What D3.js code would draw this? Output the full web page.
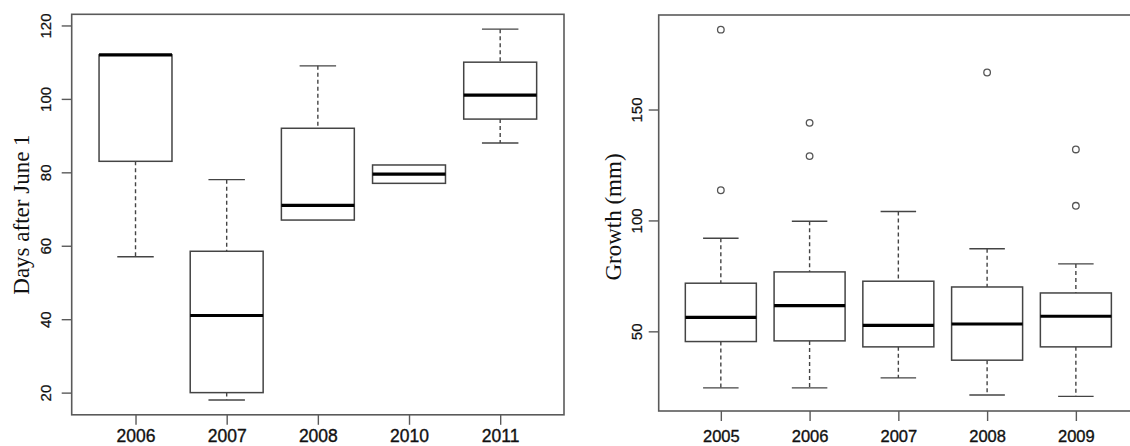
<!DOCTYPE html>
<html>
<head>
<meta charset="utf-8">
<script src="https://cdn.jsdelivr.net/npm/d3@7"></script>
<style>
  body { margin: 0; background: #fff; }
  svg { display: block; }
</style>
</head>
<body>
<svg id="chart" width="1130" height="446"></svg>
<script>
// left panel: days after June 1, per year
var leftYears = ['2006', '2007', '2008', '2010', '2011'];
var leftLow = [57, 18, 67, 77, 88];
var leftQ1 = [83, 20, 67, 77, 94.5];
var leftMed = [112, 41, 71, 79.5, 101];
var leftQ3 = [112, 58.5, 92, 82, 110];
var leftHigh = [112, 78, 109, 82, 119];
var leftOut = [[], [], [], [], []];
var leftTicks = [20, 40, 60, 80, 100, 120];

// right panel: growth (mm), per year
var rightYears = ['2005', '2006', '2007', '2008', '2009'];
var rightLow = [24.5, 24.5, 29, 21.3, 20.7];
var rightQ1 = [45.4, 45.7, 43, 37, 43];
var rightMed = [56.3, 61.6, 52.7, 53.3, 56.8];
var rightQ3 = [71.7, 76.8, 72.6, 70, 67.3];
var rightHigh = [92, 99.6, 104, 87.2, 80.4];
var rightOut = [[186, 113.6], [144, 129], [], [166.7], [132, 106.6]];
var rightTicks = [50, 100, 150];

var svg = d3.select('#chart');

function panel(cfg) {
    var g = svg.append('g');
    var rows = cfg.years.map(function(y, i) {
        return {year: y, low: cfg.low[i], q1: cfg.q1[i], med: cfg.med[i],
                q3: cfg.q3[i], high: cfg.high[i], out: cfg.out[i]};
    });
    // R style range: data extent padded by 4%
    var all = d3.merge([cfg.low, cfg.high, d3.merge(cfg.out)]);
    var lo = d3.min(all), hi = d3.max(all), pad = (hi - lo) * 0.04;
    var y = d3.scaleLinear().domain([lo - pad, hi + pad]).range([cfg.bottom, cfg.top]);
    var x = d3.scalePoint().domain(cfg.years).range([cfg.left, cfg.right]).padding(0.7);
    var bw = x.step() * 0.8, cw = bw * 0.5;

    // frame
    g.append('rect')
        .attr('x', cfg.left).attr('y', cfg.top)
        .attr('width', cfg.right - cfg.left).attr('height', cfg.bottom - cfg.top)
        .attr('fill', 'none').attr('stroke', '#5a5a5a').attr('stroke-width', 1.6);

    // axes
    var ya = g.append('g').attr('transform', 'translate(' + cfg.left + ',0)')
        .call(d3.axisLeft(y).tickValues(cfg.ticks).tickSize(10));
    ya.select('.domain').remove();
    ya.selectAll('line').attr('stroke', '#5a5a5a').attr('stroke-width', 1.4);
    ya.selectAll('text')
        .attr('x', 0).attr('y', 0).attr('dy', '0.36em')
        .attr('transform', 'translate(' + (-cfg.ylabOff) + ',0) rotate(-90)')
        .attr('text-anchor', 'middle')
        .attr('font-family', '"Liberation Sans", Arial, sans-serif')
        .attr('font-size', 15).attr('fill', '#111')
        .attr('stroke', '#111').attr('stroke-width', 0.25);

    var xa = g.append('g').attr('transform', 'translate(0,' + cfg.bottom + ')')
        .call(d3.axisBottom(x).tickSize(10).tickPadding(cfg.xpad));
    xa.select('.domain').remove();
    xa.selectAll('line').attr('stroke', '#5a5a5a').attr('stroke-width', 1.4);
    xa.selectAll('text')
        .attr('font-family', '"Liberation Sans", Arial, sans-serif')
        .attr('font-size', cfg.xsize).attr('fill', '#111')
        .attr('stroke', '#111').attr('stroke-width', 0.35);

    // axis title
    g.append('text')
        .attr('transform', 'translate(' + cfg.titleX + ',' + ((cfg.top + cfg.bottom) / 2 + cfg.titleDy) + ') rotate(-90)')
        .attr('text-anchor', 'middle').attr('dy', '0.35em')
        .attr('font-family', '"Liberation Serif", "Times New Roman", serif')
        .attr('font-size', 23).attr('fill', '#111')
        .text(cfg.title);

    var box = g.selectAll('g.box').data(rows).enter().append('g').classed('box', true);
    // whiskers (dashed)
    box.append('line')
        .attr('x1', function(d) { return x(d.year); }).attr('x2', function(d) { return x(d.year); })
        .attr('y1', function(d) { return y(d.high); }).attr('y2', function(d) { return y(d.q3); })
        .attr('stroke', '#444').attr('stroke-width', 1.4).attr('stroke-dasharray', '4,3');
    box.append('line')
        .attr('x1', function(d) { return x(d.year); }).attr('x2', function(d) { return x(d.year); })
        .attr('y1', function(d) { return y(d.q1); }).attr('y2', function(d) { return y(d.low); })
        .attr('stroke', '#444').attr('stroke-width', 1.4).attr('stroke-dasharray', '4,3');
    // staples
    box.filter(function(d) { return d.high > d.q3; }).append('line')
        .attr('x1', function(d) { return x(d.year) - cw / 2; }).attr('x2', function(d) { return x(d.year) + cw / 2; })
        .attr('y1', function(d) { return y(d.high); }).attr('y2', function(d) { return y(d.high); })
        .attr('stroke', '#444').attr('stroke-width', 1.4);
    box.filter(function(d) { return d.low < d.q1; }).append('line')
        .attr('x1', function(d) { return x(d.year) - cw / 2; }).attr('x2', function(d) { return x(d.year) + cw / 2; })
        .attr('y1', function(d) { return y(d.low); }).attr('y2', function(d) { return y(d.low); })
        .attr('stroke', '#444').attr('stroke-width', 1.4);
    // box
    box.append('rect')
        .attr('x', function(d) { return x(d.year) - bw / 2; })
        .attr('y', function(d) { return y(d.q3); })
        .attr('width', bw)
        .attr('height', function(d) { return y(d.q1) - y(d.q3); })
        .attr('fill', '#fff').attr('stroke', '#444').attr('stroke-width', 1.5);
    // median
    box.append('line')
        .attr('x1', function(d) { return x(d.year) - bw / 2; }).attr('x2', function(d) { return x(d.year) + bw / 2; })
        .attr('y1', function(d) { return y(d.med); }).attr('y2', function(d) { return y(d.med); })
        .attr('stroke', '#000').attr('stroke-width', 3.2);
    // outliers
    box.selectAll('circle').data(function(d) { return d.out.map(function(v) { return {year: d.year, v: v}; }); })
        .enter().append('circle')
        .attr('cx', function(d) { return x(d.year); })
        .attr('cy', function(d) { return y(d.v); })
        .attr('r', 3.3)
        .attr('fill', 'none').attr('stroke', '#555').attr('stroke-width', 1.3);
}

panel({years: leftYears, low: leftLow, q1: leftQ1, med: leftMed, q3: leftQ3, high: leftHigh,
       out: leftOut, ticks: leftTicks, left: 71.7, right: 564, top: 14.3, bottom: 414.8,
       ylabOff: 26, xpad: 5, xsize: 17.5, titleX: 21, titleDy: 0, title: 'Days after June 1'});
panel({years: rightYears, low: rightLow, q1: rightQ1, med: rightMed, q3: rightQ3, high: rightHigh,
       out: rightOut, ticks: rightTicks, left: 658.7, right: 1138, top: 15, bottom: 411,
       ylabOff: 22, xpad: 9.5, xsize: 16.5, titleX: 613, titleDy: 4, title: 'Growth (mm)'});
</script>
</body>
</html>
